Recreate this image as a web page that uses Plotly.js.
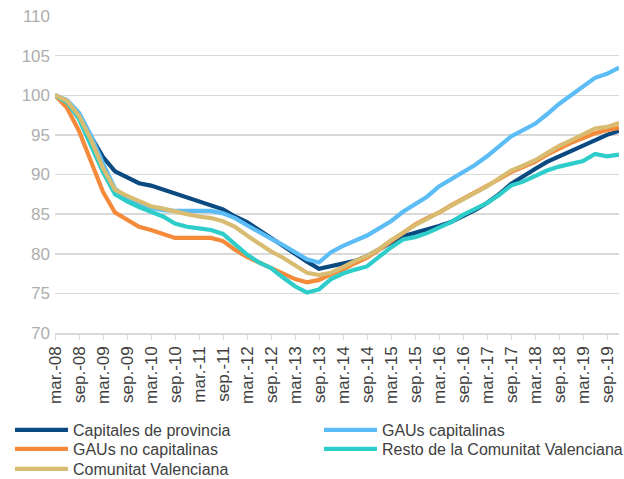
<!DOCTYPE html>
<html>
<head>
<meta charset="utf-8">
<script src="https://cdn.plot.ly/plotly-3.0.1.min.js"></script>
<style>
  html, body { margin: 0; padding: 0; background: #fff; }
  #chart { width: 624px; height: 479px; }
</style>
</head>
<body>
<div id="chart"></div>
<script>
// Quarterly categories, mar.-08 .. dic.-19
const months = ["mar.", "jun.", "sep.", "dic."];
const years = ["08","09","10","11","12","13","14","15","16","17","18","19"];
const categories = [];
years.forEach(y => months.forEach(m => categories.push(m + "-" + y)));

// Tick labels shown (every 6 months)
const tickLabels = categories.filter((c, i) => i % 2 === 0);

const capitales = [100,99.2,97.4,94.7,92.2,90.4,89.6,88.9,88.6,88.1,
  87.6,87.1,86.7,86.2,85.6,84.7,84.0,83.0,82.0,80.9,
  79.9,79.0,78.1,78.4,78.7,79.1,79.7,80.6,81.4,82.2,
  82.6,83.0,83.5,84.0,84.7,85.5,86.4,87.5,88.8,89.8,
  90.7,91.6,92.3,93.0,93.7,94.4,95.0,95.5];

const gausCapitalinas = [100,99.4,97.8,94.9,91.4,88.2,87.0,86.3,85.8,85.5,
  85.4,85.4,85.4,85.4,85.1,84.5,83.6,82.7,81.9,81.1,
  80.2,79.3,78.9,80.2,81.0,81.7,82.3,83.2,84.1,85.3,
  86.3,87.2,88.5,89.4,90.2,91.2,92.3,93.6,94.8,95.6,
  96.4,97.6,98.9,100.0,101.1,102.2,102.7,103.5];

const gausNoCapitalinas = [100,98.4,95.5,91.8,87.8,85.2,84.3,83.4,83.0,82.5,
  82.0,82.0,82.0,82.0,81.6,80.5,79.6,78.9,78.2,77.4,
  76.8,76.4,76.7,77.4,78.0,78.8,79.5,80.5,81.6,82.7,
  83.7,84.5,85.2,86.1,86.9,87.8,88.5,89.4,90.3,90.9,
  91.6,92.5,93.3,94.0,94.6,95.2,95.6,95.9];

const resto = [100,99.1,97.0,93.8,90.3,87.5,86.6,85.9,85.3,84.7,
  83.8,83.4,83.2,83.0,82.5,81.2,79.9,78.9,78.2,77.0,
  75.9,75.1,75.5,76.8,77.5,78.0,78.4,79.6,80.8,81.8,
  82.1,82.6,83.3,84.0,84.9,85.7,86.4,87.4,88.6,89.1,
  89.8,90.5,91.0,91.4,91.7,92.6,92.3,92.5];

const comunitat = [100,99.3,97.4,94.4,90.8,88.1,87.3,86.6,86.0,85.7,
  85.3,85.0,84.7,84.5,84.1,83.4,82.3,81.3,80.3,79.5,
  78.5,77.6,77.3,77.6,78.3,79.1,79.7,80.6,81.7,82.7,
  83.6,84.4,85.2,86.0,86.8,87.7,88.5,89.5,90.5,91.1,
  91.8,92.7,93.6,94.3,95.0,95.8,96.0,96.5];

const seriesNames = ["Capitales de provincia", "GAUs capitalinas", "GAUs no capitalinas",
  "Resto de la Comunitat Valenciana", "Comunitat Valenciana"];
const seriesValues = [capitales, gausCapitalinas, gausNoCapitalinas, resto, comunitat];
const colors = ["#0B4A80", "#5CBDF6", "#F58A3B", "#2ECDC9", "#D8BC72"];
// one legend box per entry, laid out in two columns
const legendIds = ["legend", "legend2", "legend3", "legend4", "legend5"];

const traces = seriesValues.map((vals, k) => ({
  type: "scatter",
  mode: "lines",
  name: seriesNames[k],
  legend: legendIds[k],
  x: categories,
  y: vals,
  line: { color: colors[k], width: 4.2 },
  hoverinfo: "x+y+name"
}));

const legendCommon = {
  orientation: "v",
  xanchor: "left",
  yanchor: "middle",
  itemwidth: 53,
  traceorder: "normal",
  font: { size: 16, color: "#404040" },
  bgcolor: "rgba(0,0,0,0)",
  itemclick: false,
  itemdoubleclick: false
};
const col1 = -0.0798, col2 = 0.468;
const row1 = -0.306, row2 = -0.366, row3 = -0.429;

const layout = {
  width: 624,
  height: 479,
  margin: { l: 55, r: 5, t: 16, b: 146, autoexpand: false },
  paper_bgcolor: "#ffffff",
  plot_bgcolor: "#ffffff",
  font: { family: "Liberation Sans, Arial, sans-serif", color: "#404040" },
  showlegend: true,
  xaxis: {
    type: "category",
    range: [0, categories.length - 1],
    tickmode: "array",
    tickvals: tickLabels,
    ticktext: tickLabels,
    tickangle: -90,
    ticks: "outside",
    ticklen: 5,
    tickcolor: "#D9D9D9",
    tickwidth: 1,
    showgrid: false,
    showline: true,
    linecolor: "#D9D9D9",
    linewidth: 1.5,
    zeroline: false,
    tickfont: { size: 17, color: "#404040" },
    automargin: false,
    fixedrange: true
  },
  yaxis: {
    range: [70, 110],
    tickmode: "linear",
    tick0: 70,
    dtick: 5,
    showgrid: true,
    gridcolor: "#D9D9D9",
    gridwidth: 1.5,
    zeroline: false,
    showline: false,
    ticks: "",
    ticklabelstandoff: 4,
    tickfont: { size: 17, color: "#AEAEAE" },
    automargin: false,
    fixedrange: true
  },
  legend:  Object.assign({}, legendCommon, { x: col1, y: row1 }),
  legend2: Object.assign({}, legendCommon, { x: col2, y: row1 }),
  legend3: Object.assign({}, legendCommon, { x: col1, y: row2 }),
  legend4: Object.assign({}, legendCommon, { x: col2, y: row2 }),
  legend5: Object.assign({}, legendCommon, { x: col1, y: row3 })
};

Plotly.newPlot("chart", traces, layout, { displayModeBar: false, staticPlot: true });
</script>
</body>
</html>
